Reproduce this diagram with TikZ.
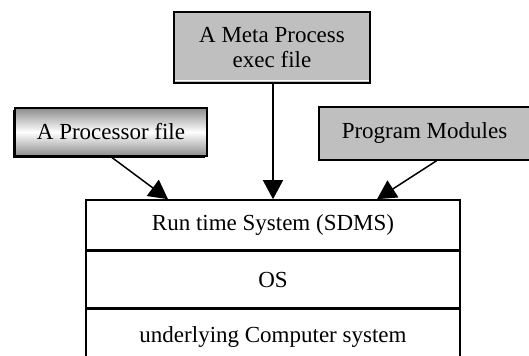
\documentclass[tikz,border=0pt]{standalone}
\usepackage{fontspec}
\setmainfont{Liberation Serif}
\usetikzlibrary{arrows.meta,positioning,shadows}

\begin{document}
\begin{tikzpicture}[
  x=0.5pt, y=-0.5pt,
  font=\fontsize{11.5}{12.5}\selectfont,
  filebox/.style={draw, line width=0.8pt, fill=gray!50, align=center, inner sep=2pt},
  shadebox/.style={draw, line width=0.8pt, align=center, inner sep=2pt,
                   top color=gray!90, bottom color=gray!90, middle color=white,
                   drop shadow={shadow xshift=-0.8pt, shadow yshift=-0.8pt, fill=black, opacity=1}},
  layer/.style={draw, line width=0.8pt, minimum width=187pt, inner sep=2pt},
  arr/.style={-{Triangle[length=9.5pt, width=10pt]}, line width=0.75pt}
]
\useasboundingbox (0,0) rectangle (529,356);
\clip (0,0) rectangle (529,356);
% input files
\node[filebox, minimum width=98pt, minimum height=35.5pt,
      path picture={\draw[white, line width=0.6pt]
        ([yshift=1.4pt]path picture bounding box.south west) --
        ([yshift=1.4pt]path picture bounding box.south east);}] (meta) at (272,47.5) {A Meta Process\\exec file};
\node[shadebox, minimum width=96pt, minimum height=24pt] (proc) at (111,132) {A Processor file};
\node[filebox, minimum width=105.5pt, minimum height=26.5pt,
      drop shadow={shadow xshift=0pt, shadow yshift=-0.6pt, fill=black, opacity=1}] (prog) at (424.5,133.5) {Program Modules};
% layered system
\node[layer, minimum height=25pt] (runtime) at (273,225) {Run time System (SDMS)};
\node[layer, minimum height=28pt, below=0pt of runtime] (os) {OS};
\node[layer, minimum height=28pt, below=0pt of os] (hw) {underlying Computer system};
\draw[arr] (proc.south) -- ([xshift=-52.5pt]runtime.north);
\draw[arr] (meta.south -| runtime.north) -- (runtime.north);
\draw[arr] ([xshift=6pt]prog.south) -- ([xshift=52pt]runtime.north);
\end{tikzpicture}
\end{document}
